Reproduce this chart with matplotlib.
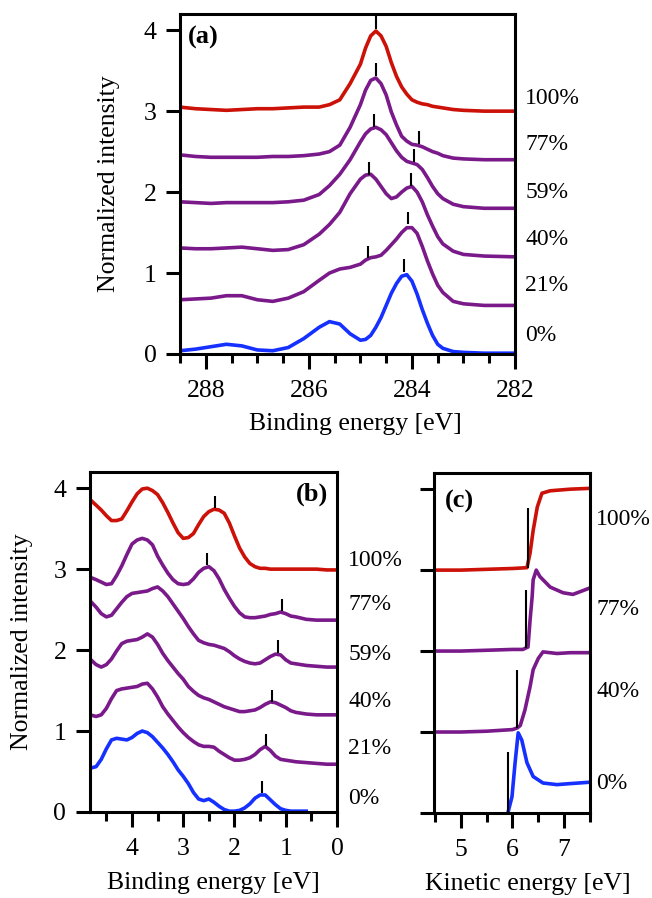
import numpy as np
from matplotlib import pyplot as plt

plt.rcParams['font.family'] = 'Liberation Serif'

red = '#cc1108'
purple = '#7a1a8a'
blue = '#1530ff'

# ---- panel (a): C 1s ----
be_a = [288.5, 288.2, 287.9, 287.6, 287.3, 287.0, 286.7, 286.4, 286.1, 285.8,
        285.6, 285.4, 285.2, 285.0, 284.9, 284.8, 284.7, 284.6, 284.5, 284.4,
        284.3, 284.2, 284.1, 284.0, 283.9, 283.8, 283.7, 283.6, 283.5, 283.4,
        283.2, 283.0, 282.6, 282.0]
a_100 = [3.05, 3.03, 3.02, 3.01, 3.02, 3.03, 3.03, 3.04, 3.05, 3.05,
         3.08, 3.14, 3.34, 3.58, 3.78, 3.93, 3.99, 3.93, 3.80, 3.60,
         3.43, 3.30, 3.21, 3.14, 3.11, 3.09, 3.08, 3.06, 3.05, 3.04,
         3.02, 3.01, 3.00, 3.00]
a_77 = [2.46, 2.44, 2.43, 2.43, 2.43, 2.43, 2.44, 2.44, 2.45, 2.47,
        2.50, 2.58, 2.80, 3.08, 3.26, 3.38, 3.41, 3.34, 3.20, 2.99,
        2.83, 2.69, 2.63, 2.59, 2.58, 2.56, 2.53, 2.50, 2.48, 2.45,
        2.42, 2.41, 2.40, 2.40]
a_59 = [1.88, 1.87, 1.86, 1.87, 1.87, 1.87, 1.87, 1.88, 1.90, 1.97,
        2.08, 2.22, 2.40, 2.62, 2.72, 2.78, 2.80, 2.77, 2.71, 2.61,
        2.51, 2.43, 2.38, 2.36, 2.34, 2.28, 2.18, 2.07, 1.98, 1.92,
        1.85, 1.82, 1.80, 1.80]
a_40 = [1.31, 1.30, 1.30, 1.31, 1.32, 1.30, 1.28, 1.29, 1.35, 1.48,
        1.60, 1.75, 1.98, 2.16, 2.21, 2.22, 2.16, 2.07, 1.98, 1.92,
        1.94, 2.00, 2.05, 2.07, 2.00, 1.88, 1.72, 1.58, 1.45, 1.36,
        1.27, 1.23, 1.21, 1.20]
a_21 = [0.67, 0.68, 0.69, 0.72, 0.72, 0.67, 0.65, 0.69, 0.77, 0.91,
        1.00, 1.05, 1.07, 1.11, 1.16, 1.19, 1.20, 1.22, 1.28, 1.35,
        1.42, 1.50, 1.56, 1.56, 1.49, 1.33, 1.15, 0.99, 0.85, 0.76,
        0.65, 0.62, 0.60, 0.60]
a_0 = [0.04, 0.06, 0.09, 0.12, 0.10, 0.05, 0.04, 0.08, 0.19, 0.33,
       0.40, 0.37, 0.25, 0.17, 0.18, 0.23, 0.33, 0.45, 0.60, 0.75,
       0.87, 0.96, 0.98, 0.90, 0.74, 0.55, 0.38, 0.23, 0.12, 0.07,
       0.03, 0.02, 0.01, 0.01]
peak_a_x = [284.70, 284.70, 283.86, 284.73, 283.96, 284.83, 284.02, 284.85, 284.08, 284.15]
peak_a_y = [4.02, 3.43, 2.60, 2.81, 2.37, 2.21, 2.08, 1.18, 1.60, 1.01]
label_y_a = [3.16, 2.59, 2.00, 1.42, 0.85, 0.23]

# ---- panel (b): valence band ----
be_b = [4.82, 4.7, 4.6, 4.5, 4.4, 4.3, 4.2, 4.1, 4.0, 3.9, 3.8, 3.7, 3.6, 3.5,
        3.4, 3.3, 3.2, 3.1, 3.0, 2.9, 2.8, 2.7, 2.6, 2.5, 2.4, 2.3, 2.2, 2.1,
        2.0, 1.9, 1.8, 1.7, 1.6, 1.5, 1.4, 1.3, 1.2, 1.1, 1.0, 0.9, 0.8, 0.6,
        0.4, 0.2, 0.0]
b_100 = [3.86, 3.79, 3.73, 3.66, 3.60, 3.60, 3.62, 3.72, 3.83, 3.93, 3.99, 4.00,
         3.97, 3.92, 3.82, 3.70, 3.57, 3.45, 3.38, 3.39, 3.44, 3.55, 3.65, 3.71,
         3.74, 3.73, 3.69, 3.57, 3.41, 3.26, 3.15, 3.07, 3.03, 3.01, 3.01, 3.00,
         3.00, 3.00, 3.00, 3.00, 3.00, 3.00, 3.00, 2.99, 2.99]
b_77 = [2.90, 2.87, 2.84, 2.81, 2.82, 2.92, 3.04, 3.18, 3.31, 3.36, 3.38, 3.36,
        3.30, 3.16, 3.05, 2.95, 2.87, 2.82, 2.81, 2.82, 2.88, 2.96, 3.01, 3.03,
        2.98, 2.88, 2.75, 2.64, 2.54, 2.46, 2.41, 2.40, 2.40, 2.41, 2.42, 2.44,
        2.45, 2.47, 2.45, 2.42, 2.41, 2.38, 2.37, 2.37, 2.37]
b_59 = [2.61, 2.53, 2.45, 2.41, 2.43, 2.51, 2.59, 2.66, 2.70, 2.71, 2.72, 2.73,
        2.76, 2.78, 2.73, 2.66, 2.57, 2.48, 2.39, 2.29, 2.20, 2.12, 2.09, 2.07,
        2.06, 2.04, 2.02, 1.98, 1.93, 1.89, 1.86, 1.84, 1.83, 1.84, 1.88, 1.92,
        1.95, 1.94, 1.88, 1.84, 1.83, 1.81, 1.80, 1.79, 1.79]
b_40 = [1.89, 1.82, 1.79, 1.82, 1.89, 1.99, 2.08, 2.11, 2.12, 2.13, 2.16, 2.20,
        2.16, 2.07, 1.96, 1.87, 1.79, 1.71, 1.64, 1.55, 1.49, 1.44, 1.41, 1.39,
        1.36, 1.33, 1.30, 1.28, 1.26, 1.24, 1.24, 1.25, 1.26, 1.29, 1.33, 1.36,
        1.35, 1.32, 1.29, 1.25, 1.23, 1.21, 1.20, 1.20, 1.20]
b_21 = [1.20, 1.18, 1.20, 1.28, 1.40, 1.50, 1.52, 1.53, 1.54, 1.55, 1.58, 1.59,
        1.52, 1.42, 1.30, 1.21, 1.13, 1.05, 0.98, 0.92, 0.87, 0.83, 0.81, 0.81,
        0.80, 0.75, 0.71, 0.67, 0.64, 0.64, 0.65, 0.67, 0.71, 0.77, 0.81, 0.76,
        0.69, 0.65, 0.64, 0.63, 0.62, 0.61, 0.60, 0.59, 0.59]
b_0 = [0.54, 0.56, 0.65, 0.78, 0.89, 0.91, 0.90, 0.89, 0.92, 0.97, 1.00, 0.98,
       0.93, 0.86, 0.79, 0.71, 0.62, 0.52, 0.44, 0.35, 0.24, 0.16, 0.14, 0.16,
       0.12, 0.07, 0.03, 0.01, 0.01, 0.02, 0.05, 0.10, 0.17, 0.21, 0.21, 0.15,
       0.09, 0.04, 0.02, 0.01, 0.01, 0.01, np.nan, np.nan, np.nan]
peak_b_x = [2.38, 2.54, 1.07, 1.15, 1.27, 1.39, 1.46]
peak_b_y = [3.75, 3.05, 2.48, 1.97, 1.36, 0.81, 0.23]
label_y_b = [3.11, 2.56, 1.94, 1.36, 0.79, 0.17]

# ---- panel (c): secondary electron cutoff ----
ke_100 = [4.48, 5.0, 5.5, 6.0, 6.28, 6.34, 6.40, 6.48, 6.57, 6.73, 7.12, 7.5]
c_100 = [3.00, 3.00, 3.01, 3.02, 3.03, 3.21, 3.49, 3.78, 3.95, 3.98, 4.00, 4.01]
ke_77 = [4.48, 5.0, 5.5, 6.0, 6.20, 6.30, 6.34, 6.38, 6.40, 6.46, 6.53, 6.73, 6.98, 7.17, 7.5]
c_77 = [2.00, 2.00, 2.01, 2.02, 2.02, 2.05, 2.38, 2.67, 2.88, 3.00, 2.92, 2.79, 2.72, 2.70, 2.78]
ke_40 = [4.48, 5.0, 5.5, 6.0, 6.09, 6.15, 6.24, 6.34, 6.40, 6.50, 6.59, 6.86, 7.12, 7.5]
c_40 = [1.00, 1.00, 1.01, 1.03, 1.05, 1.08, 1.27, 1.56, 1.77, 1.91, 1.99, 1.97, 1.98, 1.98]
ke_0 = [5.91, 5.99, 6.05, 6.11, 6.18, 6.28, 6.40, 6.59, 6.86, 7.06, 7.5]
c_0 = [0.00, 0.20, 0.62, 0.99, 0.90, 0.62, 0.45, 0.37, 0.35, 0.36, 0.38]
cut_x = [6.30, 6.26, 6.09, 5.91]
cut_lo = [3.02, 2.04, 1.05, 0.0]
cut_hi = [3.77, 2.75, 1.77, 0.75]
label_y_c = [3.62, 2.51, 1.50, 0.37]

labels_6 = ["100%", "77%", "59%", "40%", "21%", "0%"]
colors_6 = [red, purple, purple, purple, purple, blue]
labels_4 = ["100%", "77%", "40%", "0%"]
colors_4 = [red, purple, purple, blue]

fig = plt.figure(figsize=(6.52, 8.98), dpi=100)
ax = fig.add_axes([0.2761, 0.6058, 0.5138, 0.3786])
bx = fig.add_axes([0.1380, 0.0958, 0.3788, 0.3786])
cx = fig.add_axes([0.6656, 0.0947, 0.2393, 0.3786])

for a in (ax, bx, cx):
	for s in a.spines.values():
		s.set_linewidth(2.2)
	a.tick_params(which='major', direction='out', length=11, width=2.2, labelsize=18.5)
	a.tick_params(which='minor', direction='out', length=6.5, width=2.2)
	a.tick_params(axis='x', which='major', pad=8)
	a.tick_params(axis='y', which='major', length=10, pad=7)
	a.set_ylim(0, 4.2)
	a.set_yticks([0, 1, 2, 3, 4])

# (a)
for y, c in zip([a_100, a_77, a_59, a_40, a_21, a_0], colors_6):
	ax.plot(be_a, y, color=c, lw=2.6, solid_joinstyle='round')
ax.vlines(peak_a_x, peak_a_y, np.array(peak_a_y) + 0.16, color='black', lw=1.5)
for t, y in zip(labels_6, label_y_a):
	ax.text(1.03, y, t, transform=ax.get_yaxis_transform(), fontsize=17, va='center', ha='left')
ax.set_xlim(288.5, 282)
ax.set_xticks([288, 286, 284, 282])
ax.set_xticks(np.arange(282, 288.51, 0.5), minor=True)
ax.set_xlabel("Binding energy [eV]", fontsize=18.5, va='center')
ax.xaxis.set_label_coords(0.524, -0.205)
ax.set_ylabel("Normalized intensity", fontsize=18.5, va='center')
ax.yaxis.set_label_coords(-0.212, 0.5)
ax.text(0.024, 0.965, "(a)", transform=ax.transAxes, fontsize=19, fontweight='bold', va='top', ha='left')

# (b)
for y, c in zip([b_100, b_77, b_59, b_40, b_21, b_0], colors_6):
	bx.plot(be_b, y, color=c, lw=2.6, solid_joinstyle='round')
bx.vlines(peak_b_x, peak_b_y, np.array(peak_b_y) + 0.15, color='black', lw=1.5)
for t, y in zip(labels_6, label_y_b):
	bx.text(1.045, y, t, transform=bx.get_yaxis_transform(), fontsize=17, va='center', ha='left')
bx.set_xlim(4.82, 0)
bx.set_xticks([4, 3, 2, 1, 0])
bx.set_xticks(np.arange(0, 4.81, 0.5), minor=True)
bx.set_xlabel("Binding energy [eV]", fontsize=18.5, va='center')
bx.xaxis.set_label_coords(0.5, -0.21)
bx.set_ylabel("Normalized intensity", fontsize=18.5, va='center')
bx.yaxis.set_label_coords(-0.275, 0.5)
bx.text(0.964, 0.968, "(b)", transform=bx.transAxes, fontsize=19, fontweight='bold', va='top', ha='right')

# (c)
for x, y, c in zip([ke_100, ke_77, ke_40, ke_0], [c_100, c_77, c_40, c_0], colors_4):
	cx.plot(x, y, color=c, lw=2.6, solid_joinstyle='round')
cx.vlines(cut_x, cut_lo, cut_hi, color='black', lw=1.5)
for t, y in zip(labels_4, label_y_c):
	cx.text(1.04, y, t, transform=cx.get_yaxis_transform(), fontsize=17, va='center', ha='left')
cx.set_xlim(4.48, 7.5)
cx.set_xticks([5, 6, 7])
cx.set_xticks(np.arange(4.5, 7.51, 0.5), minor=True)
cx.set_yticklabels([])
cx.set_xlabel("Kinetic energy [eV]", fontsize=18.5, va='center')
cx.xaxis.set_label_coords(0.6, -0.21)
cx.text(0.07, 0.95, "(c)", transform=cx.transAxes, fontsize=19, fontweight='bold', va='top', ha='left')

fig.savefig("out.png", dpi=100)
